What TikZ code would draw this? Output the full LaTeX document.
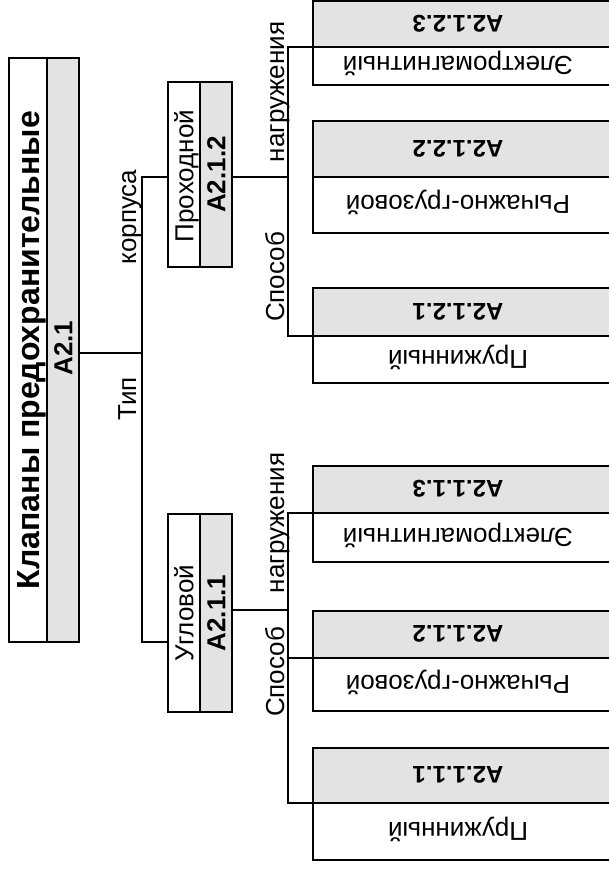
\documentclass[tikz,border=0pt]{standalone}
\usepackage{fontspec}
\setmainfont{Liberation Sans}
\definecolor{cellgray}{RGB}{227,227,227}
\begin{document}
\begin{tikzpicture}[x=1pt,y=-1pt,
  line width=2pt,
  wcell/.style={draw, line width=2pt, fill=white, inner sep=0pt, outer sep=0pt},
  gcell/.style={draw, line width=2pt, fill=cellgray, inner sep=0pt, outer sep=0pt},
  reg/.style={font=\fontsize{26}{30}\selectfont, inner sep=0pt, anchor=base},
  bld/.style={font=\bfseries\fontsize{26}{30}\selectfont, inner sep=0pt, anchor=base},
  lbld/.style={font=\bfseries\fontsize{24}{28}\selectfont, inner sep=0pt, anchor=base},
  ttl/.style={font=\bfseries\fontsize{32}{36}\selectfont, inner sep=0pt, anchor=base},
  conn/.style={draw, line width=2pt}
]
\useasboundingbox (0,0) rectangle (608,869);
\fill[white] (0,0) rectangle (608,869);

% root box
\node[wcell, minimum width=38.3pt, minimum height=584pt] (rootN) at (27.85,350) {};
\node[gcell, minimum width=32pt, minimum height=584pt] (rootC) at (63,350) {};
\node[ttl, rotate=90] (rootNt) at (39.4,350) {Клапаны предохранительные};
\node[bld, rotate=90] (rootCt) at (72.3,348) {А2.1};

% level 1 boxes
\node[wcell, minimum width=32pt, minimum height=185pt] (proN) at (184,174.5) {};
\node[gcell, minimum width=32pt, minimum height=185pt] (proC) at (216,174.5) {};
\node[reg, rotate=90] (proNt) at (193.3,176) {Проходной};
\node[bld, rotate=90] (proCt) at (225.3,174.5) {А2.1.2};

\node[wcell, minimum width=32pt, minimum height=198pt] (uglN) at (184,613) {};
\node[gcell, minimum width=32pt, minimum height=198pt] (uglC) at (216,613) {};
\node[reg, rotate=90] (uglNt) at (193.3,613) {Угловой};
\node[bld, rotate=90] (uglCt) at (225.3,613) {А2.1.1};

% leaf boxes: gray code cell above, white name cell below
% top group
\node[gcell, minimum width=300pt, minimum height=46pt] (c123) at (463,24) {};
\node[wcell, minimum width=300pt, minimum height=38pt] (n123) at (463,66) {};
\node[lbld, rotate=180] (c123t) at (458,15.4) {А2.1.2.3};
\node[reg, rotate=180] (n123t) at (458,56.7) {Электромагнитный};

\node[gcell, minimum width=300pt, minimum height=56pt] (c122) at (463,149) {};
\node[wcell, minimum width=300pt, minimum height=56pt] (n122) at (463,205) {};
\node[lbld, rotate=180] (c122t) at (458,140.4) {А2.1.2.2};
\node[reg, rotate=180] (n122t) at (458,195.7) {Рычажно-грузовой};

\node[gcell, minimum width=300pt, minimum height=48pt] (c121) at (463,312) {};
\node[wcell, minimum width=300pt, minimum height=47pt] (n121) at (463,359.5) {};
\node[lbld, rotate=180] (c121t) at (458,303.4) {А2.1.2.1};
\node[reg, rotate=180] (n121t) at (458,350.2) {Пружинный};

% bottom group
\node[gcell, minimum width=300pt, minimum height=47pt] (c113) at (463,489.5) {};
\node[wcell, minimum width=300pt, minimum height=49pt] (n113) at (463,537.5) {};
\node[lbld, rotate=180] (c113t) at (458,480.9) {А2.1.1.3};
\node[reg, rotate=180] (n113t) at (458,528.2) {Электромагнитный};

\node[gcell, minimum width=300pt, minimum height=47pt] (c112) at (463,634.5) {};
\node[wcell, minimum width=300pt, minimum height=53pt] (n112) at (463,684.5) {};
\node[lbld, rotate=180] (c112t) at (458,625.9) {А2.1.1.2};
\node[reg, rotate=180] (n112t) at (458,675.2) {Рычажно-грузовой};

\node[gcell, minimum width=300pt, minimum height=55pt] (c111) at (463,775.5) {};
\node[wcell, minimum width=300pt, minimum height=57pt] (n111) at (463,831.5) {};
\node[lbld, rotate=180] (c111t) at (458,766.9) {А2.1.1.1};
\node[reg, rotate=180] (n111t) at (458,822.2) {Пружинный};

% junction coordinates
\coordinate (j0) at (142,353);
\coordinate (jpro) at (142,177);
\coordinate (jugl) at (142,642);
\coordinate (kpro) at (288,177);
\coordinate (kugl) at (288,610);

% connectors
\draw[conn] (rootC.east |- j0) -- (j0);
\draw[conn] (proN.west |- jpro) -- (jpro) -- (jugl) -- (uglN.west |- jugl);
\draw[conn] (proC.east |- kpro) -- (kpro);
\draw[conn] (c123.south west) -| (kpro) |- (c121.south west);
\draw[conn] (uglC.east |- kugl) -- (kugl);
\draw[conn] (c113.south west) -| (kugl) |- (c111.south west);
\draw[conn] (kugl |- c112.south west) -- (c112.south west);

% branch labels
\node[reg, rotate=90] (lk) at (136,217) {корпуса};
\node[reg, rotate=90] (lt) at (136,399) {Тип};
\node[reg, rotate=90] (ln2) at (284,92) {нагружения};
\node[reg, rotate=90] (ls2) at (284,277) {Способ};
\node[reg, rotate=90] (ln1) at (284,523) {нагружения};
\node[reg, rotate=90] (ls1) at (284,672) {Способ};
\end{tikzpicture}
\end{document}
